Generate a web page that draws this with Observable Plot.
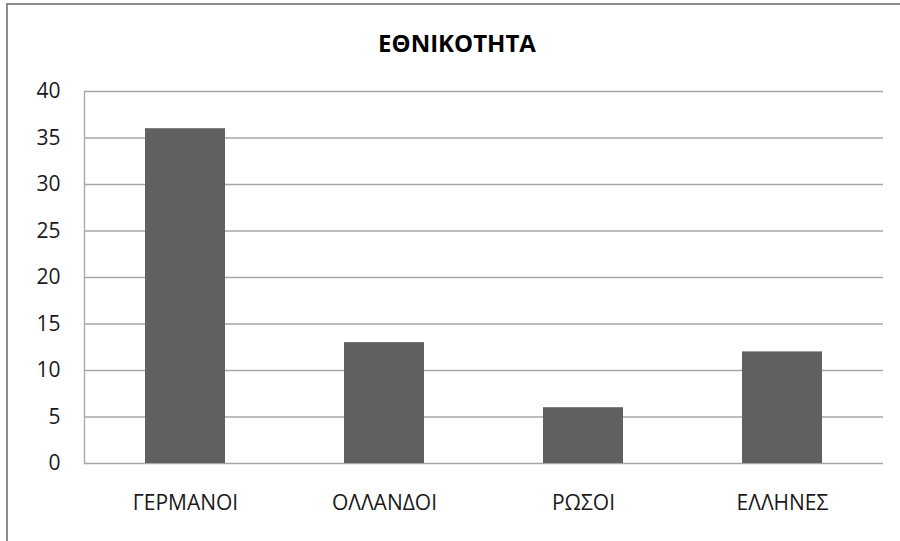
<!DOCTYPE html>
<html><head><meta charset="utf-8">
<script src="https://cdn.jsdelivr.net/npm/d3@7"></script>
<script src="https://cdn.jsdelivr.net/npm/@observablehq/plot@0.6"></script>
<style>
body{margin:0;background:#fff;font-family:"Open Sans",sans-serif;}
#wrap{position:relative;width:900px;height:541px;overflow:hidden;}
#frame{position:absolute;left:6px;top:3px;width:1000px;height:1000px;border:2px solid #8c8c8c;box-sizing:border-box;pointer-events:none;}
#title{position:absolute;left:0;top:26px;width:914px;text-align:center;font-weight:bold;font-size:24px;line-height:34px;color:#000;}
</style></head><body>
<div id="wrap"><div id="chart"></div><div id="frame"></div><div id="title">ΕΘΝΙΚΟΤΗΤΑ</div></div>
<script>
const categories = ["ΓΕΡΜΑΝΟΙ","ΟΛΛΑΝΔΟΙ","ΡΩΣΟΙ","ΕΛΛΗΝΕΣ"];
const values = [36, 13, 6, 12];
const yTicks = [0,5,10,15,20,25,30,35,40];
const data = categories.map((c,i)=>({cat:c, v:values[i]}));
const chart = Plot.plot({
  width: 900, height: 541,
  marginLeft: 84, marginRight: 17, marginTop: 91, marginBottom: 78,
  style: {fontFamily: "Open Sans, sans-serif", background: "transparent", fontSize: "21px"},
  x: {domain: categories, paddingInner: 0.6, paddingOuter: 0.3, label: null},
  y: {domain: [0, 40], label: null},
  marks: [
    Plot.gridY(yTicks, {stroke: "#a6a6a6", strokeOpacity: 1, strokeWidth: 1.3}),
    Plot.frame({anchor: "left", stroke: "#a6a6a6", strokeWidth: 1.3}),
    Plot.barY(data, {x: "cat", y: "v", fill: "#606060"}),
    Plot.axisY({ticks: yTicks, tickSize: 0, tickPadding: 24, fontSize: 21, fill: "#1a1a1a", label: null}),
    Plot.axisX({tickSize: 0, tickPadding: 32, fontSize: 21, fill: "#1a1a1a", label: null})
  ]
});
document.getElementById("chart").appendChild(chart);
</script>
</body></html>
